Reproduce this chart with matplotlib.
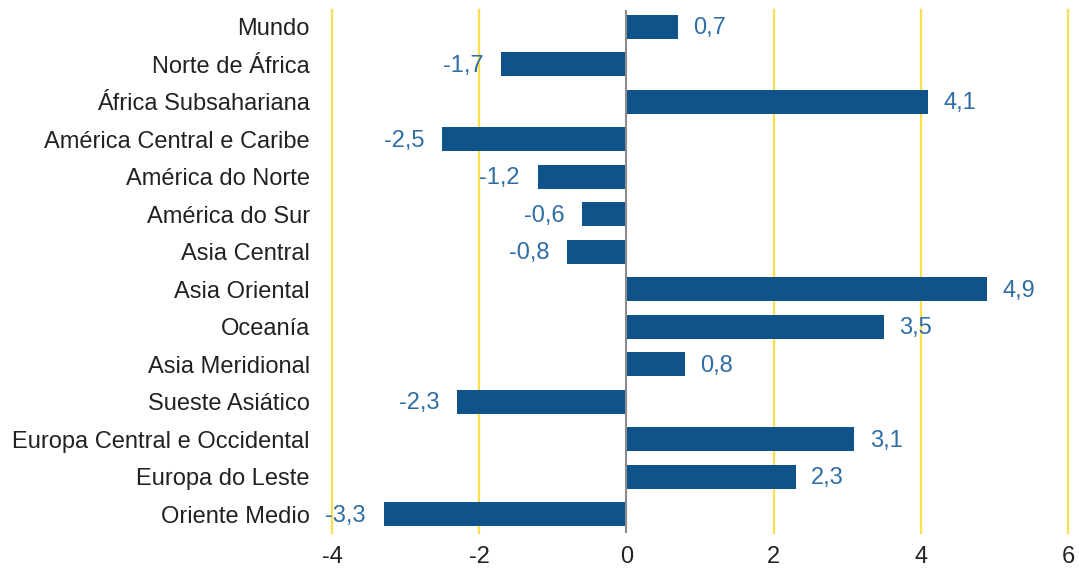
import matplotlib.pyplot as plt

regions = ['Mundo', 'Norte de África', 'África Subsahariana', 'América Central e Caribe',
           'América do Norte', 'América do Sur', 'Asia Central', 'Asia Oriental',
           'Oceanía', 'Asia Meridional', 'Sueste Asiático', 'Europa Central e Occidental',
           'Europa do Leste', 'Oriente Medio']
values = [0.7, -1.7, 4.1, -2.5, -1.2, -0.6, -0.8, 4.9, 3.5, 0.8, -2.3, 3.1, 2.3, -3.3]
xticks = [-4, -2, 0, 2, 4, 6]

plt.rcParams['font.family'] = ['Liberation Sans', 'DejaVu Sans']

fig = plt.figure(figsize=(10.79, 5.71), dpi=100)
ax = fig.add_axes([0.3077, 0.0665, 0.682, 0.916])

pos = list(range(len(regions)))
for x in xticks:
    if x != 0:
        ax.axvline(x, color='#FBE04A', lw=1.6, zorder=0, clip_on=False)
ax.barh(pos, values, height=0.64, color='#10528A', zorder=2)
ax.axvline(0, color='#8C8C8C', lw=1.5, zorder=3)

for p, v in zip(pos, values):
    txt = f'{v:.1f}'.replace('.', ',')
    if v >= 0:
        ax.annotate(txt, (v, p), xytext=(11, -1), textcoords='offset points',
                    ha='left', va='center', fontsize=17, color='#2F6DA5')
    else:
        ax.annotate(txt, (v, p), xytext=(-13, -1), textcoords='offset points',
                    ha='right', va='center', fontsize=17, color='#2F6DA5')

ax.set_xlim(-4, 6)
ax.set_ylim(13.5, -0.45)
ax.set_xticks(xticks)
ax.set_xticklabels([str(x) for x in xticks])
ax.set_yticks(pos)
ax.set_yticklabels(regions)
ax.tick_params(axis='both', length=0, labelsize=17, colors='#222222')
ax.tick_params(axis='y', pad=16)
ax.tick_params(axis='x', pad=9)
for s in ax.spines.values():
    s.set_visible(False)

fig.savefig('out.png', dpi=100)
